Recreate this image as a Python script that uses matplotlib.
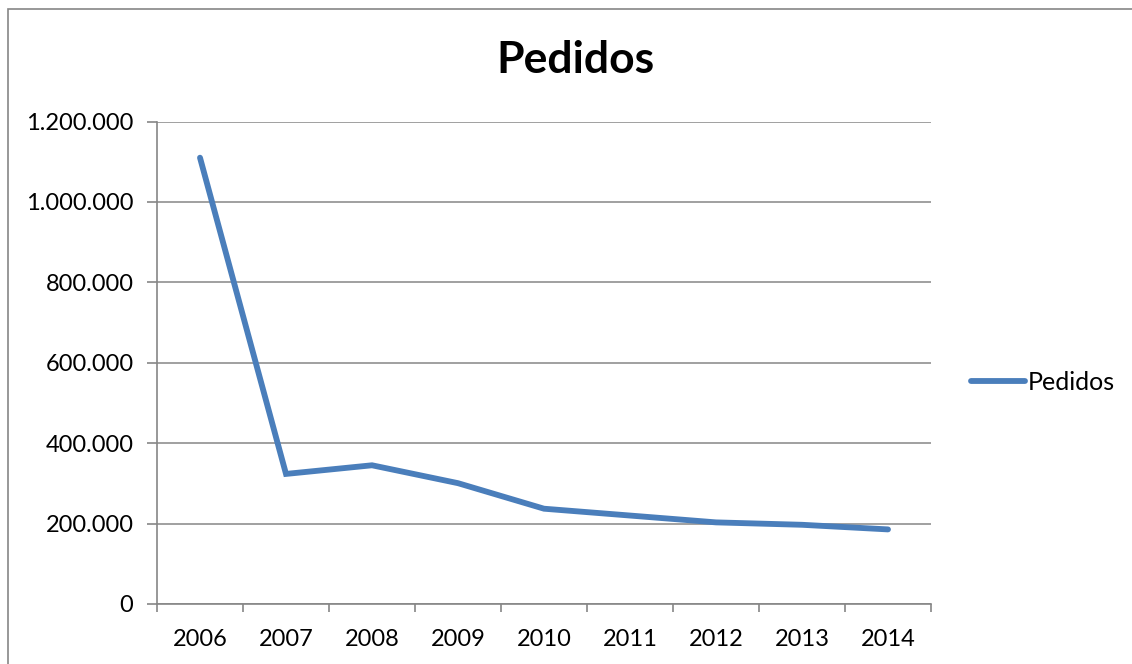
import matplotlib

matplotlib.use("Agg")
import matplotlib.pyplot as plt
from matplotlib.lines import Line2D
from matplotlib.patches import Rectangle
from matplotlib.ticker import FuncFormatter, MultipleLocator

years = ["2006", "2007", "2008", "2009", "2010", "2011", "2012", "2013", "2014"]
pedidos = [1110000, 323500, 345000, 300500, 237000, 220000, 203000, 197000, 185500]

BLUE = "#4A7EBB"
GREY = "#868686"
plt.rcParams["font.family"] = ["Lato", "DejaVu Sans"]

W, H = 1132, 664
fig = plt.figure(figsize=(W / 100, H / 100), dpi=100)
fig.patch.set_facecolor("white")

# outer chart frame (runs off the right and bottom edges)
fig.add_artist(Rectangle((8 / W, -0.05), 1.2, 1 - 9 / H + 0.05,
                         transform=fig.transFigure, fill=False,
                         edgecolor=GREY, linewidth=1.2))

ax = fig.add_axes([157 / W, (H - 604) / H, (931 - 157) / W, (604 - 121.5) / H])
xs = range(len(years))
ax.plot(xs, pedidos, color=BLUE, linewidth=4.2, solid_capstyle="round",
        solid_joinstyle="miter")

ax.set_xlim(-0.5, len(years) - 0.5)
ax.set_ylim(0, 1200000)
ax.yaxis.set_major_locator(MultipleLocator(200000))
ax.yaxis.set_major_formatter(FuncFormatter(lambda v, _: f"{int(v):,}".replace(",", ".")))
ax.grid(axis="y", color=GREY, linewidth=1.1)
ax.set_axisbelow(True)

ax.set_xticks(list(xs))
ax.set_xticklabels(years)
ax.set_xticks([i - 0.5 for i in range(len(years) + 1)], minor=True)
ax.tick_params(axis="x", which="major", length=0, pad=18, labelsize=17)
ax.tick_params(axis="x", which="minor", length=6, color=GREY, width=1.2)
ax.tick_params(axis="y", length=7, color=GREY, width=1.2, pad=10, labelsize=17)

for side in ("top", "right"):
    ax.spines[side].set_visible(False)
for side in ("left", "bottom"):
    ax.spines[side].set_color(GREY)
    ax.spines[side].set_linewidth(1.2)

fig.text(575 / W, 1 - 60 / H, "Pedidos", ha="center", va="center",
         fontsize=32, fontweight="bold")

# legend
fig.add_artist(Line2D([971 / W, 1025 / W], [1 - 381 / H] * 2, transform=fig.transFigure,
                      color=BLUE, linewidth=4.2, solid_capstyle="round"))
fig.text(1028 / W, 1 - 382 / H, "Pedidos", ha="left", va="center", fontsize=18)

fig.savefig("out.png", dpi=100)
